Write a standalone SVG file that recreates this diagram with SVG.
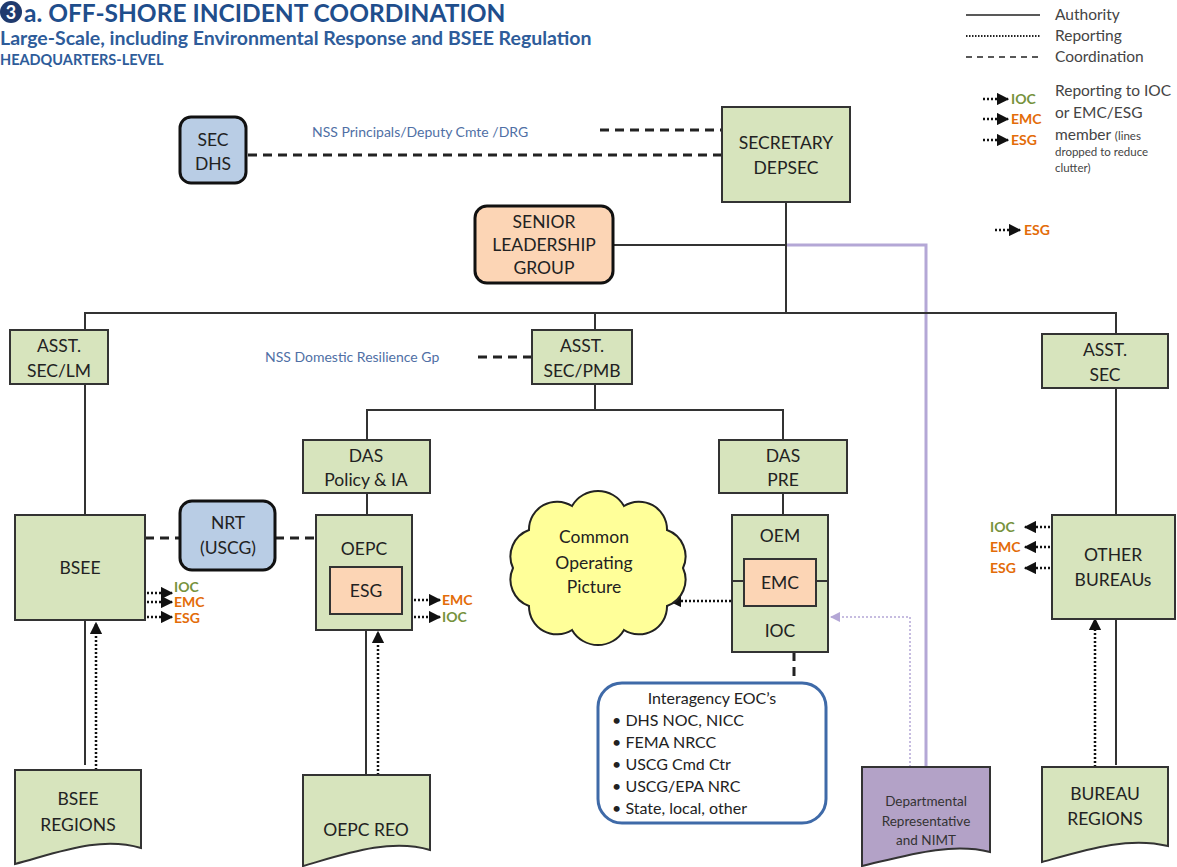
<svg xmlns="http://www.w3.org/2000/svg" width="1177" height="867" viewBox="0 0 1177 867">
<defs>
<marker id="ah" viewBox="0 0 10 10" refX="9" refY="5" markerWidth="5" markerHeight="5" orient="auto" markerUnits="strokeWidth"><path d="M0,0 L10,5 L0,10 Z" fill="#111"/></marker>
<marker id="ahp" viewBox="0 0 10 10" refX="9" refY="5" markerWidth="7" markerHeight="7" orient="auto" markerUnits="strokeWidth"><path d="M0,0 L10,5 L0,10 Z" fill="#b4a7d6"/></marker>
<style>
text{font-family:Lato,"Liberation Sans",sans-serif;}
.g{fill:#d7e4bd;stroke:#333;stroke-width:2;}
.b{fill:#b9cde5;stroke:#111;stroke-width:3;}
.o{fill:#fcd5b5;stroke:#111;stroke-width:3;}
.oi{fill:#fcd5b5;stroke:#333;stroke-width:2;}
.n{font-size:17.5px;fill:#222;text-anchor:middle;}
.auth{stroke:#333;stroke-width:2;fill:none;}
.dash{stroke:#222;stroke-width:3;stroke-dasharray:9 6;fill:none;}
.dot{stroke:#111;stroke-width:2.5;stroke-dasharray:2 2;fill:none;}
.ioc{fill:#76923c;font-weight:bold;font-size:14px;}
.emc{fill:#e36c09;font-weight:bold;font-size:14px;}
.nss{fill:#4f6fa5;font-size:14px;}
.lg{fill:#444;font-size:15.5px;}
.ia{font-size:16px;fill:#222;}
</style>
</defs>
<g id="title">
<circle cx="11" cy="12" r="11" fill="#1f3a6e"/>
<text x="11" y="19" font-size="18" font-weight="bold" fill="#fff" text-anchor="middle">3</text>
<text x="24" y="22" font-size="24.5" font-weight="bold" fill="#1f4e8c">a.  OFF-SHORE INCIDENT COORDINATION</text>
<text x="0" y="45" font-size="19.5" font-weight="bold" fill="#2e5c9a">Large-Scale, including  Environmental Response and BSEE Regulation</text>
<text x="0" y="65" font-size="14.5" font-weight="bold" fill="#2e5c9a">HEADQUARTERS-LEVEL</text>
</g>
<g id="legend">
<line x1="966" y1="15" x2="1040" y2="15" stroke="#222" stroke-width="1.5"/>
<text class="lg" x="1055" y="20">Authority</text>
<line x1="966" y1="36" x2="1040" y2="36" stroke="#222" stroke-width="2" stroke-dasharray="1.5 1.5"/>
<text class="lg" x="1055" y="41">Reporting</text>
<line x1="966" y1="57" x2="1040" y2="57" stroke="#222" stroke-width="1.5" stroke-dasharray="6 5"/>
<text class="lg" x="1055" y="62">Coordination</text>
<line class="dot" x1="983" y1="99" x2="1008" y2="99" marker-end="url(#ah)"/>
<text class="ioc" x="1011" y="104">IOC</text>
<line class="dot" x1="983" y1="119" x2="1008" y2="119" marker-end="url(#ah)"/>
<text class="emc" x="1011" y="124">EMC</text>
<line class="dot" x1="983" y1="140" x2="1008" y2="140" marker-end="url(#ah)"/>
<text class="emc" x="1011" y="145">ESG</text>
<text class="lg" x="1055" y="96">Reporting to IOC</text>
<text class="lg" x="1055" y="118">or EMC/ESG</text>
<text class="lg" x="1055" y="140">member <tspan font-size="11.5">(lines</tspan></text>
<text x="1055" y="156" font-size="11.5" fill="#444">dropped to reduce</text>
<text x="1055" y="172" font-size="11.5" fill="#444">clutter)</text>
<line class="dot" x1="995" y1="230" x2="1020" y2="230" marker-end="url(#ah)"/>
<text class="emc" x="1024" y="235">ESG</text>
</g>
<g id="connectors">
<line class="dash" x1="600" y1="130" x2="722" y2="130"/>
<line class="dash" x1="248" y1="155" x2="722" y2="155"/>
<text class="nss" x="312" y="137">NSS Principals/Deputy Cmte /DRG</text>
<polyline points="926,767 926,245 786,245" fill="none" stroke="#b4a7d6" stroke-width="3"/>
<line class="auth" x1="786" y1="202" x2="786" y2="313"/>
<line class="auth" x1="613" y1="245" x2="786" y2="245"/>
<polyline class="auth" points="85,330 85,313 1116,313 1116,334"/>
<line class="auth" x1="595" y1="313" x2="595" y2="330"/>
<line class="dash" x1="478" y1="357" x2="532" y2="357"/>
<text class="nss" x="265" y="362">NSS Domestic Resilience Gp</text>
<polyline class="auth" points="367,440 367,410 783,410 783,440"/>
<line class="auth" x1="595" y1="384" x2="595" y2="410"/>
<line class="auth" x1="85" y1="384" x2="85" y2="515"/>
<line class="auth" x1="367" y1="493" x2="367" y2="515"/>
<line class="auth" x1="783" y1="493" x2="783" y2="515"/>
<line class="auth" x1="1116" y1="388" x2="1116" y2="515"/>
<line class="dash" x1="145" y1="538" x2="180" y2="538"/>
<line class="dash" x1="275" y1="538" x2="316" y2="538"/>
<line class="auth" x1="85" y1="620" x2="85" y2="765"/>
<line class="dot" x1="96" y1="770" x2="96" y2="623" stroke-width="1.5" marker-end="url(#ah)"/>
<line class="auth" x1="366" y1="630" x2="366" y2="775"/>
<line class="dot" x1="378" y1="775" x2="378" y2="632" marker-end="url(#ah)"/>
<line class="auth" x1="1116" y1="620" x2="1116" y2="765"/>
<line class="dot" x1="1095" y1="767" x2="1095" y2="619" marker-end="url(#ah)"/>
<line class="dot" x1="731" y1="601" x2="670" y2="601" marker-end="url(#ah)"/>
<polyline points="910,767 910,617 831,617" fill="none" stroke="#b4a7d6" stroke-width="1.5" stroke-dasharray="2 2" marker-end="url(#ahp)"/>
<line class="dash" x1="794" y1="652" x2="794" y2="683"/>
<line class="dot" x1="147" y1="593" x2="172" y2="593" marker-end="url(#ah)"/>
<line class="dot" x1="147" y1="602" x2="172" y2="602" marker-end="url(#ah)"/>
<line class="dot" x1="147" y1="617" x2="172" y2="617" marker-end="url(#ah)"/>
<line class="dot" x1="414" y1="600" x2="440" y2="600" marker-end="url(#ah)"/>
<line class="dot" x1="414" y1="617" x2="440" y2="617" marker-end="url(#ah)"/>
<line class="dot" x1="1050" y1="527" x2="1025" y2="527" marker-end="url(#ah)"/>
<line class="dot" x1="1050" y1="547" x2="1025" y2="547" marker-end="url(#ah)"/>
<line class="dot" x1="1050" y1="568" x2="1025" y2="568" marker-end="url(#ah)"/>
<text class="ioc" x="174" y="592">IOC</text>
<text class="emc" x="174" y="607">EMC</text>
<text class="emc" x="174" y="623">ESG</text>
<text class="emc" x="442" y="605">EMC</text>
<text class="ioc" x="442" y="622">IOC</text>
<text class="ioc" x="990" y="532">IOC</text>
<text class="emc" x="990" y="552">EMC</text>
<text class="emc" x="990" y="573">ESG</text>
</g>
<g id="sec-dhs"><rect class="b" x="180" y="117" width="66" height="66" rx="11"/><text class="n" x="213" y="146">SEC</text><text class="n" x="213" y="170">DHS</text></g>
<g id="secretary"><rect class="g" x="722" y="107" width="128" height="95"/><text class="n" x="786" y="149">SECRETARY</text><text class="n" x="786" y="174">DEPSEC</text></g>
<g id="slg"><rect class="o" x="475" y="206" width="138" height="77" rx="12"/><text class="n" x="544" y="228">SENIOR</text><text class="n" x="544" y="251">LEADERSHIP</text><text class="n" x="544" y="274">GROUP</text></g>
<g id="asst-lm"><rect class="g" x="10" y="330" width="98" height="54"/><text class="n" x="59" y="352">ASST.</text><text class="n" x="59" y="377">SEC/LM</text></g>
<g id="asst-pmb"><rect class="g" x="532" y="330" width="100" height="54"/><text class="n" x="582" y="352">ASST.</text><text class="n" x="582" y="377">SEC/PMB</text></g>
<g id="asst-sec"><rect class="g" x="1042" y="334" width="126" height="54"/><text class="n" x="1105" y="356">ASST.</text><text class="n" x="1105" y="381">SEC</text></g>
<g id="das-policy"><rect class="g" x="303" y="440" width="127" height="53"/><text class="n" x="366" y="462">DAS</text><text class="n" x="366" y="486">Policy &amp; IA</text></g>
<g id="das-pre"><rect class="g" x="719" y="440" width="128" height="53"/><text class="n" x="783" y="462">DAS</text><text class="n" x="783" y="486">PRE</text></g>
<g id="bsee"><rect class="g" x="15" y="515" width="130" height="105"/><text class="n" x="80" y="574">BSEE</text></g>
<g id="nrt"><rect class="b" x="180" y="501" width="95" height="69" rx="12"/><text class="n" x="228" y="529">NRT</text><text class="n" x="228" y="554">(USCG)</text></g>
<g id="oepc"><rect class="g" x="316" y="515" width="96" height="115"/><text class="n" x="364" y="555">OEPC</text><rect class="oi" x="330" y="567" width="72" height="47"/><text class="n" x="366" y="597">ESG</text></g>
<g id="cop"><path d="M513,568 A28,28 0 0 1 529,530 A28,28 0 0 1 572,506 A30,30 0 0 1 624,506 A28,28 0 0 1 667,530 A28,28 0 0 1 683,568 A28,28 0 0 1 667,606 A28,28 0 0 1 624,630 A30,30 0 0 1 572,630 A28,28 0 0 1 529,606 A28,28 0 0 1 513,568 Z" fill="#ffff99" stroke="#222" stroke-width="2"/><text class="n" x="594" y="543">Common</text><text class="n" x="594" y="569">Operating</text><text class="n" x="594" y="593">Picture</text></g>
<g id="oem"><rect class="g" x="732" y="515" width="96" height="137"/><text class="n" x="780" y="542">OEM</text><line x1="732" y1="581" x2="744" y2="581" stroke="#333" stroke-width="2"/><line x1="816" y1="581" x2="828" y2="581" stroke="#333" stroke-width="2"/><rect class="oi" x="744" y="559" width="72" height="47"/><text class="n" x="780" y="589">EMC</text><text class="n" x="780" y="637">IOC</text></g>
<g id="other-bureaus"><rect class="g" x="1052" y="515" width="123" height="104"/><text class="n" x="1113" y="561">OTHER</text><text class="n" x="1113" y="586">BUREAUs</text></g>
<g id="interagency"><rect x="598" y="683" width="228" height="140" rx="24" fill="#fff" stroke="#3f6aa8" stroke-width="3"/>
<text class="ia" x="712" y="704" text-anchor="middle">Interagency EOC’s</text>
<text class="ia" x="612" y="726">• DHS NOC, NICC</text>
<text class="ia" x="612" y="748">• FEMA NRCC</text>
<text class="ia" x="612" y="770">• USCG Cmd Ctr</text>
<text class="ia" x="612" y="792">• USCG/EPA NRC</text>
<text class="ia" x="612" y="814">•  State, local, other</text></g>
<g id="bsee-regions"><path class="g" d="M15,770 H141 V848 C100,836 60,852 15,864 Z"/><text class="n" x="78" y="805">BSEE</text><text class="n" x="78" y="831">REGIONS</text></g>
<g id="oepc-reo"><path class="g" d="M303,775 H430 V850 C390,838 345,854 303,866 Z"/><text class="n" x="366" y="836">OEPC REO</text></g>
<g id="dept-rep"><path d="M862,767 H990 V852 C950,842 905,856 862,866 Z" fill="#b3a2c7" stroke="#333" stroke-width="2"/><text x="926" y="806" font-size="13.5" fill="#333" text-anchor="middle">Departmental</text><text x="926" y="826" font-size="13.5" fill="#333" text-anchor="middle">Representative</text><text x="926" y="845" font-size="13.5" fill="#333" text-anchor="middle">and NIMT</text></g>
<g id="bureau-regions"><path class="g" d="M1042,767 H1168 V846 C1128,836 1085,850 1042,862 Z"/><text class="n" x="1105" y="800">BUREAU</text><text class="n" x="1105" y="825">REGIONS</text></g>
</svg>
